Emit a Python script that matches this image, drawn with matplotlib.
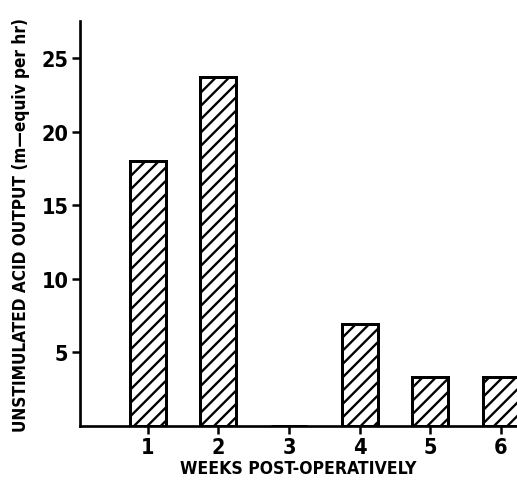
import matplotlib
matplotlib.use('Agg')
import matplotlib.pyplot as plt

weeks = [1, 2, 3, 4, 5, 6]
acid_output = [18.0, 23.7, 0, 6.9, 3.3, 3.3]
yticks = [5, 10, 15, 20, 25]

plt.rcParams['font.family'] = ['DejaVu Sans']
plt.rcParams['font.weight'] = 'bold'
plt.rcParams['font.stretch'] = 'condensed'
plt.rcParams['hatch.linewidth'] = 1.4

dpi = 120
fig = plt.figure(figsize=(517 / dpi, 494 / dpi), dpi=dpi)
ax = fig.add_axes([0.155, 0.136, 0.845, 0.819])

ax.bar(weeks, acid_output, width=0.51, color='white', edgecolor='black',
       hatch='///', linewidth=1.8, zorder=2)

ax.set_xlim(0.04, 6.23)
ax.set_ylim(0, 27.5)
ax.set_xticks(weeks)
ax.set_yticks(yticks)
ax.tick_params(axis='both', direction='out', length=5, width=1.5,
               labelsize=13, pad=2)
for lab in ax.get_xticklabels() + ax.get_yticklabels():
    lab.set_fontweight('bold')

for s in ['top', 'right']:
    ax.spines[s].set_visible(False)
for s in ['left', 'bottom']:
    ax.spines[s].set_linewidth(1.6)

ax.set_xlabel('WEEKS POST-OPERATIVELY', fontsize=10.5, fontweight='bold', labelpad=1)
ax.set_ylabel('UNSTIMULATED ACID OUTPUT (m\u2014equiv per hr)', fontsize=10.3,
              fontweight='bold', labelpad=7)

fig.savefig('out.png', dpi=dpi)
